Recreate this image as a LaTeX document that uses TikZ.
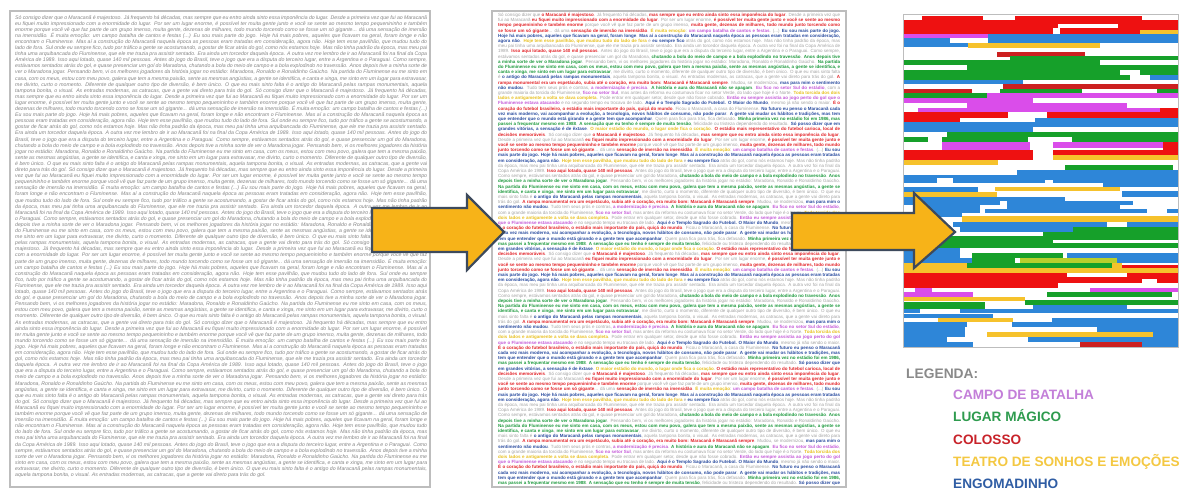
\documentclass[tikz,border=0pt]{standalone}
\usepackage{fontspec}
\setmainfont{Liberation Sans}
\definecolor{ltgrey}{HTML}{858585}
\definecolor{mgrey}{HTML}{A2A2A2}
\definecolor{framegrey}{HTML}{BDBDBD}
\definecolor{mred}{HTML}{E3262B}
\definecolor{mblue}{HTML}{2B4DA0}
\definecolor{mgreen}{HTML}{1E9A3E}
\definecolor{mviolet}{HTML}{C45AD8}
\definecolor{myellow}{HTML}{E8C020}
\definecolor{bR}{HTML}{EE1111}
\definecolor{bDR}{HTML}{CC2020}
\definecolor{bM}{HTML}{DA4DEA}
\definecolor{bB}{HTML}{2E86D8}
\definecolor{bG}{HTML}{16A02A}
\definecolor{bY}{HTML}{F6C22C}
\definecolor{bYG}{HTML}{B9CF2C}
\definecolor{arrowfill}{HTML}{F7B318}
\definecolor{arrowline}{HTML}{3D4A5C}
\definecolor{lviolet}{HTML}{C37FD9}
\definecolor{lgreen}{HTML}{2E9B4E}
\definecolor{lred}{HTML}{C8232A}
\definecolor{lyellow}{HTML}{F4C842}
\definecolor{lblue}{HTML}{2F5DA4}
\definecolor{lgrey}{HTML}{8A8A8A}

\newcommand\mR[1]{\textcolor{mred}{\textbf{#1}}}
\newcommand\mB[1]{\textcolor{mblue}{\textbf{#1}}}
\newcommand\mG[1]{\textcolor{mgreen}{\textbf{#1}}}
\newcommand\mV[1]{\textcolor{mviolet}{\textbf{#1}}}
\newcommand\mY[1]{\textcolor{myellow}{\textbf{#1}}}
\newcommand\bx[5]{\fill[#5] (#1,#2) rectangle (#3,#4);}

\newcommand\lefttxt{Só consigo dizer que o Maracanã é majestoso. Já frequento há décadas, mas sempre que eu entro ainda sinto essa imponência do lugar. Desde a primeira vez que fui ao Maracanã eu fiquei muito impressionado com a enormidade do lugar. Por ser um lugar enorme, é possível ter muita gente junto e você se sente ao mesmo tempo pequenininho e também enorme porque você vê que faz parte de um grupo imenso, muita gente, dezenas de milhares, todo mundo torcendo como se fosse um só gigante... dá uma sensação de imersão na imensidão. É muita emoção: um campo batalha de cantos e festas (...) Eu sou mais parte do jogo. Hoje há mais pobres, aqueles que ficavam na geral, foram longe e não encontram o Fluminense. Mas aí a construção do Maracanã naquela época as pessoas eram tratadas em consideração, agora não. Hoje tem esse pavilhão, que mudou tudo do lado de fora. Sul onde eu sempre fico, tudo por tráfico a gente se acostumando, a gostar de ficar atrás do gol, como nós estamos hoje. Mas não tinha padrão da época, mas meu pai tinha uma arquibancada do Fluminense, que ele me trazia pra assistir sentado. Era ainda um torcedor daquela época. A outra vez me lembro de ir ao Maracanã foi na final da Copa América de 1989. Isso aqui lotado, quase 140 mil pessoas. Antes do jogo do Brasil, teve o jogo que era a disputa do terceiro lugar, entre a Argentina e o Paraguai. Como sempre, estávamos sentados atrás do gol, e quase presenciar um gol do Maradona, chutando a bola do meio de campo e a bola explodindo no travessão. Anos depois tive a minha sorte de ver o Maradona jogar. Pensando bem, vi os melhores jogadores da história jogar no estádio: Maradona, Ronaldo e Ronaldinho Gaúcho. Na partida do Fluminense eu me sinto em casa, com os meus, estou com meu povo, galera que tem a mesma paixão, sente as mesmas angústias, a gente se identifica, e canta e xinga, me sinto em um lugar para extravasar, me divirto, curto o momento. Diferente de qualquer outro tipo de diversão, é bem único. O que eu mais sinto falta é o antigo do Maracanã pelas rampas monumentais, aquela tampona bonita, o visual. As entradas modernas, as catracas, que a gente vai direto para trás do gol. }

\newcommand\midtxt{Só consigo dizer que \mR{o Maracanã é majestoso}. Já frequento há décadas, \mR{mas sempre que eu entro ainda sinto essa imponência do lugar}. Desde a primeira vez que fui ao Maracanã \mR{eu fiquei muito impressionado com a enormidade do lugar}. Por ser um lugar enorme, \mR{é possível ter muita gente junto e você se sente ao mesmo tempo pequenininho e também enorme} porque você vê que faz parte de um grupo imenso, \mR{muita gente, dezenas de milhares, todo mundo junto torcendo como se fosse um só gigante}... dá uma \mR{sensação de imersão na imensidão}. \mY{É muita emoção}: \mV{um campo batalha de cantos e festas}. (...) \mB{Eu sou mais parte do jogo. Hoje há mais pobres, aqueles que ficavam na geral, foram longe}. \mB{Mas aí a construção do Maracanã naquela época as pessoas eram tratadas em consideração, agora não}. \mY{Hoje tem esse pavilhão, que mudou tudo do lado de fora} e \mB{eu sempre fico} atrás do gol, como nós estamos hoje. Mas não tinha padrão da época, mas meu pai tinha uma arquibancada do Fluminense, que ele me trazia pra assistir sentado. Era ainda um torcedor daquela época. A outra vez foi na final da Copa América de 1989. \mR{Isso aqui lotado, quase 140 mil pessoas}. Antes do jogo do Brasil, teve o jogo que era a disputa do terceiro lugar, entre a Argentina e o Paraguai. Como sempre, estávamos sentados atrás do gol, e quase presenciar um gol do Maradona, \mG{chutando a bola do meio de campo e a bola explodindo no travessão}. \mG{Anos depois tive a minha sorte de ver o Maradona jogar}. Pensando bem, vi os melhores jogadores da história jogar no estádio: Maradona, Ronaldo e Ronaldinho Gaúcho. \mG{Na partida do Fluminense eu me sinto em casa, com os meus, estou com meu povo, galera que tem a mesma paixão, sente as mesmas angústias, a gente se identifica, e canta e xinga}, \mG{me sinto em um lugar para extravasar}, me divirto, curto o momento, diferente de qualquer outro tipo de diversão, é bem único. O que eu mais sinto falta é \mB{o antigo do Maracanã pelas rampas monumentais}, aquela tampona bonita, o visual. As entradas modernas, as catracas, que a gente vai direto para trás do gol. \mR{A rampa monumental era um espetáculo, subia até o coração, era muito bom: Maracanã é Maracanã sempre}. Mudou, se modernizou, \mB{mas para mim o sentimento não mudou}. Tudo tem seus prós e contras, \mV{a modernização é precisa}. \mG{A história e aura do Maracanã não se apagam}. \mV{Eu fico no setor Sul do estádio}, com a grande maioria da torcida do Fluminense, \mV{fico no setor Sul}, mas antes da reforma eu costumava ficar no setor Verde, do lado que hoje é o Norte. \mY{Toda torcida dos dois lados e antigamente a volta se dava completa}. Pode entrar em qualquer setor, desde que não fosse cobrado. \mV{Então eu sempre assistia ao jogo perto do gol que o Fluminense estava atacando} e no segundo tempo eu trocava de lado. \mB{Aqui é o Templo Sagrado do Futebol. O Maior do Mundo}, mesmo já não sendo o maior. \mR{É o coração do futebol brasileiro, o estádio mais importante do país, quiçá do mundo}. Ficou o Maracanã, a casa do Fluminense. \mB{No futuro eu penso o Maracanã cada vez mais moderno, vai acompanhar a evolução, a tecnologia, novos hábitos de consumo, não pode parar}. \mB{A gente vai mudar os hábitos e tradições, mas tem que entender que o mundo está girando e a gente tem que acompanhar}. Quem para fica para trás, fica defasado. \mG{Minha primeira vez no estádio foi em 1986, mas passei a frequentar mesmo em 1988}. \mG{A sensação que eu tenho é sempre de muita tensão}, felicidade ou tristeza dependendo do resultado. \mB{Só posso dizer que em grandes vitórias, a sensação é de êxtase}. \mY{O maior estádio do mundo, o lugar onde fica o coração}. \mR{O estádio mais representativo do futebol carioca, local de decisões memoráveis}. }

\tikzset{
  pageframe/.style={draw=framegrey, line width=1.2pt},
  panelframe/.style={draw=framegrey, line width=1pt},
  lefttext/.style={inner sep=0pt, anchor=north west, text width=412pt, align=justify,
    font=\fontsize{5.2}{6.1}\selectfont\itshape, text=ltgrey},
  midtext/.style={inner sep=0pt, anchor=north west, text width=342pt, align=justify,
    font=\fontsize{4.5}{5.2}\selectfont, text=mgrey},
  bigarrow/.style={fill=arrowfill, draw=arrowline, line width=2.2pt, line join=miter},
  legtitle/.style={inner sep=0pt, anchor=base west, font=\fontsize{13.8}{14}\selectfont\bfseries, text=lgrey},
  legitem/.style={inner sep=0pt, anchor=base west, font=\fontsize{13.6}{14}\selectfont\bfseries}
}

\begin{document}
\begin{tikzpicture}[x=1pt,y=-1pt]
\useasboundingbox (0,0) rectangle (1184,488);
\fill[white] (0,0) rectangle (1184,488);

% left page
\draw[pageframe] (10,11) rectangle (430,487);
\begin{scope}
\clip (11,12) rectangle (429,484);
\node[lefttext] (ltext) at (15,15) {\lefttxt\lefttxt\lefttxt\lefttxt\lefttxt\lefttxt};
\end{scope}

% middle page
\draw[pageframe] (492,11) rectangle (846,487);
\begin{scope}
\clip (493,12) rectangle (845,484);
\node[midtext] (mtext) at (498,13) {\midtxt\midtxt\midtxt\midtxt\midtxt\midtxt\midtxt};
\end{scope}

% bars panel
\bx{922}{16}{983}{20}{bR}
\bx{1015}{16}{1142}{20}{bR}
\bx{904}{20}{1178}{34}{bR}
\bx{1058}{24}{1118}{28}{white}
\bx{1053}{28}{1060}{34}{white}
\bx{1140}{30}{1178}{34}{bY}
\bx{904}{34}{988}{38}{bM}
\bx{988}{34}{1178}{43}{bB}
\bx{904}{38}{950}{43}{bB}
\bx{904}{43}{968}{47}{bB}
\bx{968}{43}{1100}{48}{bY}
\bx{997}{52}{1085}{57}{bDR}
\bx{1010}{56}{1178}{60}{bG}
\bx{904}{60}{1100}{65}{bG}
\bx{967}{65}{1178}{70}{bG}
\bx{904}{70}{1120}{75}{bG}
\bx{1140}{70}{1178}{75}{bG}
\bx{904}{75}{1130}{80}{bG}
\bx{1150}{75}{1178}{80}{bB}
\bx{904}{80}{1023}{84}{bB}
\bx{1003}{84}{1178}{89}{bDR}
\bx{904}{89}{972}{93}{bDR}
\bx{1000}{89}{1082}{93}{bG}
\bx{1157}{89}{1178}{93}{bG}
\bx{904}{93}{987}{98}{bG}
\bx{987}{93}{1178}{98}{bM}
\bx{904}{98}{1033}{103}{bM}
\bx{967}{103}{1127}{108}{bM}
\bx{918}{108}{1160}{112}{bM}
\bx{1160}{108}{1178}{112}{bR}
\bx{904}{112}{1008}{118}{bR}
\bx{1047}{112}{1178}{118}{bR}
\bx{904}{118}{960}{122}{bR}
\bx{1035}{118}{1178}{122}{bB}
\bx{904}{122}{1178}{127}{bB}
\bx{904}{127}{1033}{132}{bB}
\bx{947}{132}{1178}{137}{bG}
\bx{904}{137}{928}{142}{bG}
\bx{942}{137}{1028}{142}{bG}
\bx{1072}{137}{1178}{142}{bG}
\bx{942}{142}{1030}{150}{bM}
\bx{1053}{142}{1163}{148}{bM}
\bx{1163}{142}{1178}{150}{bR}
\bx{904}{150}{1033}{160}{bR}
\bx{1053}{150}{1178}{155}{bR}
\bx{1053}{155}{1178}{160}{bY}
\bx{904}{160}{998}{165}{bY}
\bx{1065}{165}{1173}{170}{bG}
\bx{1017}{170}{1178}{175}{bB}
\bx{904}{175}{1178}{183}{bB}
\bx{937}{178}{953}{183}{white}
\bx{1045}{180}{1053}{183}{white}
\bx{1103}{183}{1178}{187}{bB}
\bx{995}{187}{1120}{191}{bY}
\bx{904}{187}{978}{192}{bB}
\bx{904}{192}{997}{197}{bY}
\bx{1122}{191}{1178}{197}{bB}
\bx{904}{197}{1065}{201}{bB}
\bx{904}{201}{1000}{205}{bB}
\bx{1007}{201}{1133}{205}{bB}
\bx{913}{205}{980}{209}{bB}
\bx{1007}{205}{1120}{209}{bB}
\bx{913}{209}{980}{213}{bB}
\bx{985}{209}{1147}{213}{bB}
\bx{1167}{209}{1178}{213}{bB}
\bx{913}{213}{962}{217}{bB}
\bx{962}{216}{1178}{222}{bY}
\bx{953}{222}{1107}{227}{bB}
\bx{1127}{222}{1178}{227}{bB}
\bx{960}{227}{1073}{232}{bB}
\bx{1073}{227}{1178}{232}{bG}
\bx{1043}{232}{1178}{236}{bG}
\bx{904}{236}{1053}{243}{bG}
\bx{1053}{236}{1178}{240}{bG}
\bx{920}{243}{1178}{248}{bG}
\bx{904}{248}{960}{253}{bB}
\bx{904}{253}{960}{258}{bB}
\bx{972}{253}{1063}{258}{bG}
\bx{1067}{253}{1178}{258}{bB}
\bx{904}{258}{972}{263}{bB}
\bx{972}{258}{1015}{263}{bG}
\bx{1020}{258}{1117}{263}{bYG}
\bx{1117}{258}{1178}{263}{bB}
\bx{904}{263}{967}{268}{bY}
\bx{967}{263}{1112}{268}{bG}
\bx{1112}{263}{1122}{268}{bY}
\bx{1122}{265}{1178}{268}{bR}
\bx{904}{268}{1178}{273}{bY}
\bx{904}{273}{1058}{288}{bR}
\bx{1058}{273}{1067}{283}{bR}
\bx{1067}{277}{1178}{283}{bR}
\bx{1127}{273}{1178}{277}{bR}
\bx{1142}{279}{1157}{283}{white}
\bx{915}{288}{932}{292}{bM}
\bx{1090}{288}{1178}{292}{bM}
\bx{904}{292}{973}{297}{bM}
\bx{1047}{292}{1172}{297}{bG}
\bx{904}{297}{1025}{301}{bY}
\bx{1025}{300}{1178}{305}{bG}
\bx{904}{302}{985}{309}{bG}
\bx{1033}{305}{1127}{309}{bB}
\bx{904}{309}{920}{313}{bB}
\bx{960}{309}{1178}{313}{bB}
\bx{904}{314}{993}{318}{bB}
\bx{938}{318}{1013}{322}{bY}
\bx{1052}{318}{1178}{322}{bB}
\bx{904}{322}{967}{327}{bB}
\bx{1012}{322}{1178}{327}{bB}
\bx{904}{327}{965}{332}{bB}
\bx{1097}{327}{1178}{332}{bB}
\bx{904}{332}{965}{337}{bB}
\bx{987}{332}{1153}{337}{bY}
\bx{1153}{332}{1178}{337}{bB}
\bx{904}{337}{947}{342}{bB}
\bx{1028}{337}{1178}{342}{bB}
\bx{904}{342}{973}{347}{bB}
\bx{1080}{342}{1142}{347}{bDR}
\bx{1142}{342}{1178}{347}{bB}
\draw[panelframe] (903,14) rectangle (1178,347);

% arrows
\draw[bigarrow] (372,208) -- (467,208) -- (467,195) -- (504,232) -- (467,270) -- (467,252) -- (372,252) -- cycle;
\draw[bigarrow] (792,213) -- (914,213) -- (914,193) -- (955,232) -- (914,268) -- (914,250) -- (792,250) -- cycle;

% legend
\node[legtitle] (legt) at (906,378) {LEGENDA:};
\node[legitem, text=lviolet] (leg1) at (953,399.5) {CAMPO DE BATALHA};
\node[legitem, text=lgreen] (leg2) at (953,421.8) {LUGAR MÁGICO};
\node[legitem, text=lred] (leg3) at (953,444) {COLOSSO};
\node[legitem, text=lyellow] (leg4) at (953,466.3) {TEATRO DE SONHOS E EMOÇÕES};
\node[legitem, text=lblue] (leg5) at (953,488) {ENGOMADINHO};
\end{tikzpicture}
\end{document}
